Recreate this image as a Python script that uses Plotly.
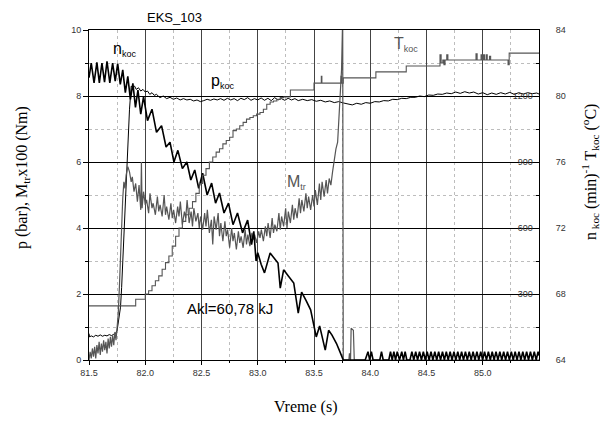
import plotly.graph_objects as go

# ---------------- data ----------------
TITLE = "EKS_103"
X_TICKS = [81.5, 82.0, 82.5, 83.0, 83.5, 84.0, 84.5, 85.0, 85.5]
Y_LEFT_TICKS = [0, 2, 4, 6, 8, 10]
N_TICKS = [0, 300, 600, 900, 1200, 1500]
T_TICKS = [64, 68, 72, 76, 80, 84]

# n_koc (1/min) : (time s, rpm)
N_KOC = [
    (81.500, 1283), (81.520, 1350), (81.545, 1260), (81.570, 1353), (81.592, 1260),
    (81.615, 1350), (81.638, 1263), (81.660, 1358), (81.685, 1260), (81.710, 1350),
    (81.733, 1268), (81.755, 1347), (81.778, 1253), (81.800, 1319), (81.823, 1215),
    (81.845, 1289), (81.868, 1185), (81.890, 1257), (81.913, 1148), (81.935, 1227),
    (81.960, 1118), (81.985, 1197), (82.020, 1088), (82.060, 1140), (82.100, 1035),
    (82.145, 1065), (82.185, 968), (82.220, 990), (82.255, 900), (82.290, 953),
    (82.330, 870), (82.370, 900), (82.405, 818), (82.440, 864), (82.475, 780),
    (82.510, 849), (82.550, 750), (82.590, 804), (82.625, 713), (82.660, 759),
    (82.700, 668), (82.740, 713), (82.780, 615), (82.820, 668), (82.865, 578),
    (82.910, 636), (82.945, 525), (82.965, 585), (82.985, 450), (83.000, 488),
    (83.030, 435), (83.060, 396), (83.110, 486), (83.150, 458), (83.180, 441),
    (83.200, 327), (83.230, 410), (83.270, 383), (83.320, 350), (83.360, 213),
    (83.390, 309), (83.430, 270), (83.470, 228), (83.520, 105), (83.550, 155),
    (83.600, 45), (83.630, 135), (83.660, 113), (83.700, 75), (83.730, 38),
    (83.760, 0), (83.955, 0), (83.980, 38), (83.995, 0), (84.010, 38), (84.025, 0),
    (84.085, 0), (84.100, 38), (84.115, 0), (84.165, 0), (84.180, 38), (84.195, 0),
    (84.210, 38), (84.225, 0), (84.240, 38), (84.260, 0), (84.280, 38), (84.295, 0),
    (84.310, 38), (84.325, 0), (84.353, 0), (84.370, 38), (84.387, 0), (84.404, 38),
    (84.421, 0), (84.438, 38), (84.455, 0), (84.472, 38), (84.489, 0), (84.506, 38),
    (84.523, 0), (84.540, 38), (84.557, 0), (84.574, 38), (84.591, 0), (84.608, 38),
    (84.625, 0), (84.642, 38), (84.659, 0), (84.676, 38), (84.693, 0), (84.710, 38),
    (84.727, 0), (84.744, 38), (84.761, 0), (84.778, 38), (84.795, 0), (84.812, 38),
    (84.829, 0), (84.846, 38), (84.863, 0), (84.880, 38), (84.897, 0), (84.914, 38),
    (84.931, 0), (84.948, 38), (84.965, 0), (84.982, 38), (84.999, 0), (85.016, 38),
    (85.033, 0), (85.050, 38), (85.067, 0), (85.084, 38), (85.101, 0), (85.118, 38),
    (85.135, 0), (85.152, 38), (85.169, 0), (85.186, 38), (85.203, 0), (85.220, 38),
    (85.237, 0), (85.254, 38), (85.271, 0), (85.288, 38), (85.305, 0), (85.322, 38),
    (85.339, 0), (85.356, 38), (85.373, 0), (85.390, 38), (85.407, 0), (85.424, 38),
    (85.441, 0), (85.458, 38), (85.475, 0), (85.492, 38), (85.500, 20),
]

# p_koc (bar)
P_KOC = [
    (81.500, 0.80), (81.505, 0.70), (81.520, 0.73), (81.540, 0.70), (81.560, 0.75),
    (81.580, 0.72), (81.600, 0.76), (81.620, 0.72), (81.640, 0.75), (81.660, 0.73),
    (81.680, 0.77), (81.700, 0.74), (81.720, 0.78), (81.735, 0.80), (81.750, 0.90),
    (81.765, 1.20), (81.780, 1.60), (81.790, 2.20), (81.800, 3.00), (81.815, 4.00),
    (81.830, 5.20), (81.845, 6.50), (81.860, 7.60), (81.875, 8.30), (81.890, 8.25),
    (81.905, 8.30), (81.920, 8.20), (81.940, 8.25), (81.960, 8.15), (81.980, 8.20),
    (82.000, 8.12), (82.020, 8.15), (82.040, 8.05), (82.060, 8.10), (82.080, 8.02),
    (82.100, 8.05), (82.130, 7.95), (82.160, 8.00), (82.190, 7.92), (82.220, 7.96),
    (82.250, 7.90), (82.280, 7.94), (82.310, 7.88), (82.340, 7.92), (82.370, 7.88),
    (82.400, 7.90), (82.430, 7.85), (82.460, 7.88), (82.490, 7.83), (82.520, 7.86),
    (82.550, 7.90), (82.580, 7.87), (82.610, 7.91), (82.640, 7.88), (82.670, 7.92),
    (82.700, 7.87), (82.730, 7.93), (82.760, 7.88), (82.790, 7.92), (82.820, 7.86),
    (82.850, 7.93), (82.880, 7.89), (82.910, 7.95), (82.940, 7.87), (82.970, 7.92),
    (83.000, 7.88), (83.030, 7.94), (83.060, 7.87), (83.090, 7.93), (83.120, 7.86),
    (83.150, 7.95), (83.180, 7.88), (83.210, 7.92), (83.240, 7.87), (83.270, 7.93),
    (83.300, 7.88), (83.330, 7.92), (83.360, 7.86), (83.400, 7.90), (83.440, 7.86),
    (83.480, 7.89), (83.520, 7.84), (83.560, 7.87), (83.600, 7.82), (83.640, 7.85),
    (83.680, 7.80), (83.720, 7.83), (83.760, 7.79), (83.800, 7.76), (83.840, 7.73),
    (83.880, 7.78), (83.920, 7.75), (83.960, 7.80), (84.000, 7.78), (84.040, 7.83),
    (84.080, 7.82), (84.120, 7.86), (84.160, 7.85), (84.200, 7.90), (84.240, 7.89),
    (84.280, 7.93), (84.320, 7.92), (84.360, 7.96), (84.400, 7.96), (84.440, 8.00),
    (84.480, 7.98), (84.520, 8.03), (84.560, 8.02), (84.600, 8.06), (84.640, 8.05),
    (84.680, 8.09), (84.720, 8.07), (84.760, 8.12), (84.800, 8.08), (84.840, 8.13),
    (84.880, 8.09), (84.920, 8.12), (84.960, 8.06), (85.000, 8.10), (85.040, 8.04),
    (85.080, 8.09), (85.120, 8.05), (85.160, 8.10), (85.200, 8.06), (85.240, 8.11),
    (85.280, 8.05), (85.320, 8.10), (85.360, 8.06), (85.400, 8.10), (85.440, 8.07),
    (85.480, 8.09), (85.500, 8.06),
]

# M_tr (Nm x100)
M_TR = [
    (81.500, 0.00), (81.510, 0.25), (81.520, 0.05), (81.530, 0.35), (81.540, 0.10),
    (81.550, 0.40), (81.560, 0.05), (81.570, 0.45), (81.580, 0.20), (81.590, 0.55),
    (81.600, 0.15), (81.610, 0.50), (81.620, 0.25), (81.630, 0.60), (81.640, 0.30),
    (81.650, 0.55), (81.660, 0.20), (81.670, 0.65), (81.680, 0.35), (81.690, 0.70),
    (81.700, 0.40), (81.710, 0.75), (81.720, 0.45), (81.730, 0.85), (81.740, 0.60),
    (81.750, 0.95), (81.760, 1.40), (81.770, 2.20), (81.780, 3.20), (81.790, 4.20),
    (81.800, 4.90), (81.810, 5.40), (81.820, 5.20), (81.830, 5.60), (81.845, 5.86),
    (81.860, 5.70), (81.875, 5.40), (81.885, 5.55), (81.900, 5.10), (81.915, 5.35),
    (81.930, 4.80), (81.945, 5.30), (81.960, 4.55), (81.966, 6.00), (81.972, 4.60),
    (81.985, 5.10), (82.000, 4.70), (82.012, 4.85), (82.030, 4.45), (82.042, 5.05),
    (82.060, 4.60), (82.070, 4.75), (82.090, 4.40), (82.108, 4.95), (82.120, 4.50),
    (82.132, 4.70), (82.150, 4.35), (82.168, 5.00), (82.180, 4.40), (82.190, 4.65),
    (82.210, 4.25), (82.228, 4.75), (82.240, 4.30), (82.252, 4.55), (82.270, 4.15),
    (82.288, 4.65), (82.300, 4.35), (82.312, 4.80), (82.330, 4.10), (82.348, 4.50),
    (82.360, 4.30), (82.372, 4.85), (82.390, 4.15), (82.408, 4.50), (82.420, 4.05),
    (82.432, 4.60), (82.450, 4.20), (82.468, 4.45), (82.480, 4.00), (82.492, 4.35),
    (82.510, 3.95), (82.528, 4.45), (82.540, 4.05), (82.552, 4.55), (82.570, 3.85),
    (82.588, 4.25), (82.600, 3.50), (82.612, 4.35), (82.630, 3.95), (82.648, 4.45),
    (82.660, 3.75), (82.672, 4.15), (82.690, 3.60), (82.708, 4.20), (82.720, 3.75),
    (82.732, 3.95), (82.750, 3.40), (82.768, 4.00), (82.780, 3.60), (82.792, 3.85),
    (82.810, 3.35), (82.828, 3.90), (82.840, 3.55), (82.852, 3.75), (82.870, 3.40),
    (82.888, 3.95), (82.900, 3.50), (82.912, 3.80), (82.930, 3.45), (82.948, 3.85),
    (82.960, 3.65), (82.972, 3.80), (82.990, 3.55), (83.008, 3.90), (83.020, 3.70),
    (83.032, 3.95), (83.050, 3.60), (83.068, 4.05), (83.080, 3.75), (83.092, 4.15),
    (83.110, 3.70), (83.128, 4.30), (83.140, 3.85), (83.152, 4.10), (83.170, 3.90),
    (83.188, 4.45), (83.200, 3.95), (83.212, 4.35), (83.230, 4.05), (83.248, 4.60),
    (83.260, 4.00), (83.272, 4.50), (83.290, 4.15), (83.308, 4.70), (83.320, 4.25),
    (83.332, 4.60), (83.350, 4.30), (83.368, 4.90), (83.380, 4.45), (83.392, 4.85),
    (83.410, 4.50), (83.428, 5.05), (83.440, 4.60), (83.452, 4.95), (83.470, 4.55),
    (83.488, 5.00), (83.500, 4.65), (83.512, 5.15), (83.530, 4.70), (83.548, 5.35),
    (83.560, 4.85), (83.572, 5.40), (83.590, 4.95), (83.608, 5.45), (83.620, 5.05),
    (83.635, 5.50), (83.650, 5.30), (83.665, 5.70), (83.680, 6.10), (83.695, 6.40),
    (83.710, 6.60), (83.720, 7.20), (83.735, 8.00), (83.745, 8.80), (83.755, 10.40),
    (83.760, 0.00), (83.810, 0.00), (83.815, 0.20), (83.825, 0.00), (83.830, 0.96),
    (83.850, 0.90), (83.858, 0.00), (85.500, 0.00),
]

# T_koc (deg C), staircase
T_KOC = [
    (81.500, 67.28), (81.915, 67.68), (82.000, 68.00), (82.030, 68.20), (82.060, 68.50),
    (82.090, 68.80), (82.120, 69.10), (82.150, 69.50), (82.180, 69.90), (82.210, 70.30),
    (82.240, 70.90), (82.270, 71.50), (82.300, 72.00), (82.330, 72.40), (82.360, 72.80),
    (82.390, 73.20), (82.420, 73.60), (82.450, 74.10), (82.480, 74.70), (82.510, 75.20),
    (82.540, 75.60), (82.570, 76.00), (82.600, 76.30), (82.630, 76.60), (82.660, 76.80),
    (82.690, 77.10), (82.720, 77.30), (82.750, 77.50), (82.780, 77.90), (82.810, 78.00),
    (82.840, 78.20), (82.870, 78.40), (82.900, 78.60), (82.930, 78.70), (82.960, 78.80),
    (82.990, 78.90), (83.020, 79.00), (83.050, 79.20), (83.080, 79.50), (83.110, 79.64),
    (83.140, 79.70), (83.170, 79.80), (83.200, 79.90), (83.230, 79.94), (83.290, 80.36),
    (83.500, 80.78), (83.565, 81.20), (83.570, 80.78), (83.740, 81.20), (83.745, 80.78),
    (83.760, 81.10), (84.050, 81.46), (84.320, 81.82), (84.620, 82.50), (84.630, 82.00),
    (84.645, 82.18), (84.655, 81.90), (84.665, 82.18), (84.680, 82.50), (84.690, 82.18),
    (84.940, 82.56), (84.950, 82.18), (84.985, 82.50), (84.995, 82.18), (85.005, 82.50),
    (85.015, 82.18), (85.030, 82.50), (85.040, 82.18), (85.060, 82.40), (85.070, 82.18),
    (85.225, 81.90), (85.235, 82.60), (85.500, 82.60),
]

# ---------------- figure ----------------
W, H = 602, 429
L, R, T, B = 89, 63, 30, 69
PW, PH = W - L - R, H - T - B

SANS = "Liberation Sans, Arial, sans-serif"
SERIF = "Liberation Serif, Times New Roman, serif"
GRAY = "#555555"


def px_x(px):
    return (px - L) / PW


def px_y(py):
    return (H - B - py) / PH


fig = go.Figure()
fig.add_trace(go.Scatter(x=[a for a, _ in P_KOC], y=[b for _, b in P_KOC], mode="lines",
                         line=dict(color="black", width=1), yaxis="y", hoverinfo="skip"))
fig.add_trace(go.Scatter(x=[a for a, _ in M_TR], y=[b for _, b in M_TR], mode="lines",
                         line=dict(color=GRAY, width=1.2), yaxis="y", hoverinfo="skip"))
fig.add_trace(go.Scatter(x=[a for a, _ in T_KOC], y=[b for _, b in T_KOC], mode="lines",
                         line=dict(color=GRAY, width=1.1, shape="hv"), yaxis="y3", hoverinfo="skip"))
fig.add_trace(go.Scatter(x=[a for a, _ in N_KOC], y=[b for _, b in N_KOC], mode="lines",
                         line=dict(color="black", width=1.6), yaxis="y2", hoverinfo="skip"))

tickfont = dict(family=SANS, size=9, color="#333333")

fig.update_layout(
    width=W, height=H,
    margin=dict(l=L, r=R, t=T, b=B),
    paper_bgcolor="white", plot_bgcolor="white",
    showlegend=False,
    xaxis=dict(
        range=[81.5, 85.5], tickvals=X_TICKS, ticktext=[f"{v:.1f}" for v in X_TICKS],
        ticks="outside", ticklen=4, tickcolor="black", tickfont=tickfont,
        showline=True, linecolor="black", linewidth=1, mirror=True,
        showgrid=True, gridcolor="#444444", gridwidth=1, zeroline=False,
        minor=dict(dtick=0.25, tick0=81.5, ticks="outside", ticklen=2, tickcolor="black",
                   showgrid=True, gridcolor="#bdbdbd", griddash="dot", gridwidth=1),
    ),
    yaxis=dict(
        range=[0, 10], tickvals=Y_LEFT_TICKS, ticks="outside", ticklen=5, tickcolor="black",
        tickfont=tickfont, showline=True, linecolor="black", linewidth=1,
        showgrid=True, gridcolor="black", gridwidth=1, zeroline=False,
        minor=dict(dtick=1, tick0=0, ticks="outside", ticklen=3, tickcolor="black",
                   showgrid=True, gridcolor="#bdbdbd", griddash="dot", gridwidth=1),
    ),
    yaxis2=dict(
        overlaying="y", side="right", range=[0, 1500], tickvals=N_TICKS, tickformat="d",
        ticks="inside", ticklen=5, tickcolor="black", ticklabelposition="inside",
        tickfont=tickfont, showline=True, linecolor="black", linewidth=1,
        showgrid=False, zeroline=False,
        minor=dict(dtick=150, tick0=0, ticks="inside", ticklen=3, tickcolor="black"),
    ),
    yaxis3=dict(
        overlaying="y", side="right", anchor="free", position=1, range=[64, 84],
        tickvals=T_TICKS, ticks="outside", ticklen=14, tickcolor="rgba(0,0,0,0)",
        tickfont=tickfont, showline=False, showgrid=False, zeroline=False,
    ),
)

ann = []
ann.append(dict(text=TITLE, xref="paper", yref="paper", x=px_x(174), y=px_y(18),
                xanchor="center", yanchor="middle", showarrow=False,
                font=dict(family=SANS, size=13, color="black")))
SUBF = "<span style='font-size:9px'>%s</span>"
labels = [
    ("n<sub>" + SUBF % "koc" + "</sub>", 111, 49, "black"),
    ("p<sub>" + SUBF % "koc" + "</sub>", 209, 81, "black"),
    ("T<sub>" + SUBF % "koc" + "</sub>", 392, 45, GRAY),
    ("M<sub>" + SUBF % "tr" + "</sub>", 285, 182, GRAY),
]
for txt, x0, y0, col in labels:
    ann.append(dict(text=txt, xref="paper", yref="paper", x=px_x(x0), y=px_y(y0),
                    xanchor="left", yanchor="middle", showarrow=False,
                    font=dict(family=SANS, size=16, color=col)))
ann.append(dict(text="Akl=60,78 kJ", xref="paper", yref="paper", x=px_x(230), y=px_y(308),
                xanchor="center", yanchor="middle", showarrow=False,
                font=dict(family=SANS, size=15, color="black")))
# axis titles
ann.append(dict(text="p (bar), M<sub>tr</sub>x100 (Nm)", xref="paper", yref="paper",
                x=px_x(22), y=px_y(178), xanchor="center", yanchor="middle", textangle=-90,
                showarrow=False, font=dict(family=SERIF, size=16, color="black")))
ann.append(dict(text="Vreme (s)", xref="paper", yref="paper", x=px_x(305), y=px_y(407),
                xanchor="center", yanchor="middle", showarrow=False,
                font=dict(family=SERIF, size=16, color="black")))
ann.append(dict(text="n<sub> koc</sub> (min)<sup>-1</sup> T<sub>koc</sub> (<sup>o</sup>C)",
                xref="paper", yref="paper", x=px_x(590), y=px_y(172), xanchor="center",
                yanchor="middle", textangle=-90, showarrow=False,
                font=dict(family=SERIF, size=16, color="black")))
fig.update_layout(annotations=ann)

fig.write_html(
    "out.html",
    config={"displayModeBar": False},
    post_script="document.body.style.margin='0';document.body.style.overflow='hidden';",
)
